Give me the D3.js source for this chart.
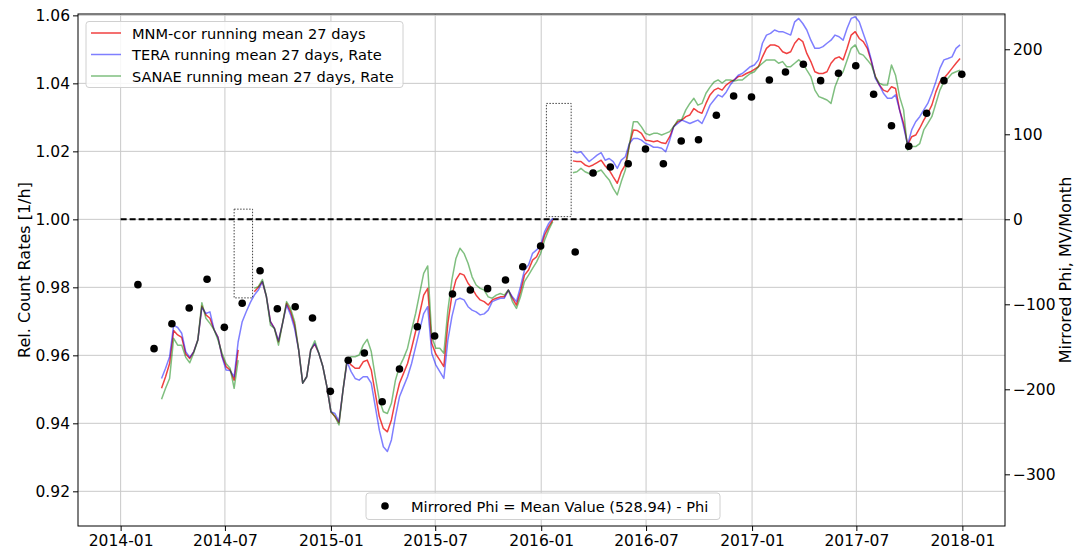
<!DOCTYPE html>
<html>
<head>
<meta charset="utf-8">
<script src="https://cdn.jsdelivr.net/npm/d3@7"></script>
<style>
  body { margin: 0; background: #fff; }
  svg { display: block; }
  text { font-family: "DejaVu Sans", sans-serif; fill: #000; }
</style>
</head>
<body>
<svg id="chart" width="1085" height="552"></svg>
<script>
// ---- data: 27-day running means of relative count rates (weekly samples) ----
const lineDates = [
  "2014-03-13","2014-03-20","2014-03-27","2014-04-03","2014-04-10","2014-04-17","2014-04-24","2014-05-01",
  "2014-05-08","2014-05-15","2014-05-22","2014-05-29","2014-06-05","2014-06-12","2014-06-19","2014-06-26",
  "2014-07-03","2014-07-10","2014-07-17","2014-07-24","2014-07-31","2014-08-07","2014-08-14","2014-08-21",
  "2014-08-28","2014-09-04","2014-09-11","2014-09-18","2014-09-25","2014-10-02","2014-10-09","2014-10-16",
  "2014-10-23","2014-10-30","2014-11-06","2014-11-13","2014-11-20","2014-11-27","2014-12-04","2014-12-11",
  "2014-12-18","2014-12-25","2015-01-01","2015-01-08","2015-01-15","2015-01-22","2015-01-29","2015-02-05",
  "2015-02-12","2015-02-19","2015-02-26","2015-03-05","2015-03-12","2015-03-19","2015-03-26","2015-04-02",
  "2015-04-09","2015-04-16","2015-04-23","2015-04-30","2015-05-07","2015-05-14","2015-05-21","2015-05-28",
  "2015-06-04","2015-06-11","2015-06-18","2015-06-25","2015-07-02","2015-07-09","2015-07-16","2015-07-23",
  "2015-07-30","2015-08-06","2015-08-13","2015-08-20","2015-08-27","2015-09-03","2015-09-10","2015-09-17",
  "2015-09-24","2015-10-01","2015-10-08","2015-10-15","2015-10-22","2015-10-29","2015-11-05","2015-11-12",
  "2015-11-19","2015-11-26","2015-12-03","2015-12-10","2015-12-17","2015-12-24","2015-12-31","2016-01-07",
  "2016-01-14","2016-01-21","2016-01-28","2016-02-04","2016-02-11","2016-02-18","2016-02-25","2016-03-03",
  "2016-03-10","2016-03-17","2016-03-24","2016-03-31","2016-04-07","2016-04-14","2016-04-21","2016-04-28",
  "2016-05-05","2016-05-12","2016-05-19","2016-05-26","2016-06-02","2016-06-09","2016-06-16","2016-06-23",
  "2016-06-30","2016-07-07","2016-07-14","2016-07-21","2016-07-28","2016-08-04","2016-08-11","2016-08-18",
  "2016-08-25","2016-09-01","2016-09-08","2016-09-15","2016-09-22","2016-09-29","2016-10-06","2016-10-13",
  "2016-10-20","2016-10-27","2016-11-03","2016-11-10","2016-11-17","2016-11-24","2016-12-01","2016-12-08",
  "2016-12-15","2016-12-22","2016-12-29","2017-01-05","2017-01-12","2017-01-19","2017-01-26","2017-02-02",
  "2017-02-09","2017-02-16","2017-02-23","2017-03-02","2017-03-09","2017-03-16","2017-03-23","2017-03-30",
  "2017-04-06","2017-04-13","2017-04-20","2017-04-27","2017-05-04","2017-05-11","2017-05-18","2017-05-25",
  "2017-06-01","2017-06-08","2017-06-15","2017-06-22","2017-06-29","2017-07-06","2017-07-13","2017-07-20",
  "2017-07-27","2017-08-03","2017-08-10","2017-08-17","2017-08-24","2017-08-31","2017-09-07","2017-09-14",
  "2017-09-21","2017-09-28","2017-10-05","2017-10-12","2017-10-19","2017-10-26","2017-11-02","2017-11-09",
  "2017-11-16","2017-11-23","2017-11-30","2017-12-07","2017-12-14","2017-12-21","2017-12-28"
];

const mnmRate = [
  0.9503,0.9537,0.9576,0.9673,0.9660,0.9653,0.9604,0.9591,0.9611,0.9645,0.9745,0.9719,0.9709,0.9676,0.9653,0.9598,
  0.9567,0.9557,0.9527,0.9616,null,null,null,0.9787,0.9800,0.9817,0.9773,0.9699,0.9679,0.9640,0.9694,0.9753,
  0.9728,0.9689,0.9616,0.9518,0.9537,0.9616,0.9633,0.9606,0.9567,0.9508,0.9434,0.9420,0.9402,0.9498,0.9584,0.9572,
  0.9562,0.9562,0.9581,0.9586,0.9557,0.9488,0.9420,0.9385,0.9375,0.9410,0.9469,0.9518,0.9547,0.9576,0.9621,0.9670,
  0.9723,0.9777,0.9797,0.9635,0.9604,0.9586,0.9567,0.9694,0.9777,0.9822,0.9841,0.9836,0.9812,0.9797,0.9777,0.9763,
  0.9758,0.9748,0.9763,0.9768,0.9772,0.9772,0.9792,0.9768,0.9748,0.9787,0.9836,0.9851,0.9880,0.9890,0.9915,0.9954,
  0.9978,0.9998,null,null,null,null,1.0172,1.0170,1.0170,1.0160,1.0155,1.0160,1.0167,1.0174,1.0157,1.0145,
  1.0125,1.0106,1.0140,1.0160,1.0219,1.0263,1.0261,1.0253,1.0233,1.0231,1.0228,1.0231,1.0225,1.0223,1.0243,1.0273,
  1.0287,1.0292,1.0302,1.0307,1.0326,1.0317,1.0312,1.0341,1.0366,1.0380,1.0386,1.0380,1.0395,1.0404,1.0410,1.0420,
  1.0422,1.0429,1.0434,1.0441,1.0449,1.0478,1.0503,1.0513,1.0513,1.0508,1.0493,1.0488,1.0493,1.0518,1.0532,1.0523,
  1.0488,1.0464,1.0434,1.0429,1.0429,1.0434,1.0459,1.0473,1.0478,1.0469,1.0503,1.0542,1.0552,1.0532,1.0523,1.0503,
  1.0464,1.0420,1.0395,1.0380,1.0375,1.0390,1.0385,1.0322,1.0282,1.0219,1.0243,1.0248,1.0268,1.0292,1.0312,1.0336,
  1.0375,1.0405,1.0415,1.0429,1.0444,1.0459,1.0473
];

const teraRate = [
  0.9532,0.9562,0.9596,0.9688,0.9682,0.9665,0.9611,0.9594,0.9611,0.9645,0.9741,0.9723,0.9728,0.9676,0.9653,0.9596,
  0.9557,0.9555,0.9537,0.9640,0.9699,0.9728,0.9755,0.9777,0.9792,0.9817,0.9773,0.9699,0.9679,0.9643,0.9694,0.9748,
  0.9719,0.9679,0.9616,0.9518,0.9537,0.9616,0.9635,0.9606,0.9567,0.9508,0.9434,0.9429,0.9405,0.9498,0.9581,0.9552,
  0.9532,0.9527,0.9537,0.9537,0.9518,0.9449,0.9380,0.9331,0.9317,0.9351,0.9420,0.9478,0.9508,0.9537,0.9576,0.9625,
  0.9674,0.9723,0.9743,0.9606,0.9572,0.9552,0.9532,0.9645,0.9714,0.9763,0.9768,0.9763,0.9743,0.9733,0.9728,0.9719,
  0.9722,0.9733,0.9758,0.9763,0.9768,0.9768,0.9792,0.9772,0.9758,0.9802,0.9851,0.9866,0.9900,0.9910,0.9924,0.9964,
  0.9988,1.0003,null,null,null,null,1.0201,1.0196,1.0199,1.0184,1.0170,1.0179,1.0189,1.0196,1.0174,1.0179,
  1.0170,1.0150,1.0174,1.0184,1.0223,1.0238,1.0238,1.0233,1.0223,1.0219,1.0212,1.0212,1.0209,1.0199,1.0233,1.0273,
  1.0282,1.0292,1.0287,1.0282,1.0287,1.0292,1.0282,1.0307,1.0336,1.0351,1.0366,1.0360,1.0374,1.0395,1.0410,1.0424,
  1.0429,1.0439,1.0449,1.0454,1.0469,1.0518,1.0542,1.0547,1.0557,1.0552,1.0552,1.0547,1.0542,1.0581,1.0591,1.0576,
  1.0557,1.0527,1.0503,1.0503,1.0508,1.0518,1.0527,1.0542,1.0537,1.0527,1.0562,1.0591,1.0596,1.0581,1.0547,1.0513,
  1.0469,1.0415,1.0395,1.0371,1.0356,1.0356,1.0366,1.0322,1.0272,1.0219,1.0263,1.0287,1.0302,1.0322,1.0341,1.0371,
  1.0405,1.0444,1.0469,1.0473,1.0478,1.0503,1.0513
];

const sanaeRate = [
  0.9471,0.9503,0.9532,0.9650,0.9630,0.9630,0.9594,0.9578,0.9608,0.9645,0.9755,0.9709,0.9694,0.9676,0.9645,0.9606,
  0.9576,0.9562,0.9503,0.9586,null,null,null,0.9797,0.9802,0.9823,0.9773,0.9689,0.9679,0.9630,0.9694,0.9758,
  0.9738,0.9699,0.9616,0.9518,0.9537,0.9616,0.9643,0.9606,0.9567,0.9508,0.9434,0.9420,0.9395,0.9498,0.9588,0.9596,
  0.9596,0.9601,0.9630,0.9647,0.9611,0.9537,0.9469,0.9434,0.9429,0.9459,0.9527,0.9567,0.9591,0.9621,0.9674,0.9723,
  0.9782,0.9841,0.9863,0.9655,0.9621,0.9621,0.9606,0.9733,0.9822,0.9885,0.9915,0.9900,0.9871,0.9831,0.9807,0.9797,
  0.9792,0.9772,0.9768,0.9777,0.9782,0.9777,0.9792,0.9758,0.9738,0.9772,0.9817,0.9836,0.9856,0.9875,0.9900,0.9939,
  0.9969,0.9993,null,null,null,null,1.0137,1.0140,1.0150,1.0140,1.0135,1.0130,1.0140,1.0145,1.0130,1.0116,
  1.0091,1.0072,1.0111,1.0145,1.0219,1.0287,1.0287,1.0272,1.0253,1.0248,1.0253,1.0253,1.0248,1.0253,1.0258,1.0273,
  1.0292,1.0294,1.0322,1.0341,1.0356,1.0336,1.0341,1.0371,1.0389,1.0404,1.0410,1.0401,1.0410,1.0410,1.0407,1.0410,
  1.0410,1.0420,1.0429,1.0434,1.0449,1.0459,1.0469,1.0469,1.0469,1.0459,1.0464,1.0449,1.0449,1.0459,1.0469,1.0459,
  1.0439,1.0420,1.0380,1.0361,1.0356,1.0351,1.0341,1.0390,1.0420,1.0434,1.0469,1.0503,1.0513,1.0488,1.0483,1.0469,
  1.0454,1.0420,1.0400,1.0395,1.0395,1.0454,1.0424,1.0361,1.0322,1.0204,1.0214,1.0214,1.0223,1.0263,1.0282,1.0302,
  1.0341,1.0380,1.0405,1.0415,1.0429,1.0434,1.0439
];

// ---- monthly mirrored heliospheric potential (MV/month) ----
const phiDates = [
  "2014-01-31","2014-02-28","2014-03-31","2014-04-30","2014-05-31","2014-06-30","2014-07-31","2014-08-31",
  "2014-09-30","2014-10-31","2014-11-30","2014-12-31","2015-01-31","2015-02-28","2015-03-31","2015-04-30",
  "2015-05-31","2015-06-30","2015-07-31","2015-08-31","2015-09-30","2015-10-31","2015-11-30","2015-12-31",
  "2016-02-29","2016-03-31","2016-04-30","2016-05-31","2016-06-30","2016-07-31","2016-08-31","2016-09-30",
  "2016-10-31","2016-11-30","2016-12-31","2017-01-31","2017-02-28","2017-03-31","2017-04-30","2017-05-31",
  "2017-06-30","2017-07-31","2017-08-31","2017-09-30","2017-10-31","2017-11-30","2017-12-31"
];
const phiMirrored = [
  -76.9,-152.2,-122.8,-104.4,-70.6,-127.1,-98.8,-60.5,
  -105.2,-102.8,-116.1,-202.4,-165.9,-157.3,-214.6,-176.1,
  -126.4,-137.3,-87.9,-83.2,-81.6,-71.4,-55.8,-31.4,
  -38.5,54.5,61.5,65.4,82.7,65.4,92.1,93.6,
  122.4,145.0,143.9,163.9,173.3,182.4,163.1,171.8,
  180.7,147.1,110.1,85.9,124.7,163.1,170.6
];

// ---- data gaps (date range, count-rate range) ----
const gapFrom = ["2014-07-17", "2016-01-10"];
const gapTo   = ["2014-08-18", "2016-02-22"];
const gapLow  = [0.9769, 1.0008];
const gapHigh = [1.0030, 1.0341];

// ---- reference level and ticks ----
const refLevel = 1.0;
const refFrom = "2014-01-01", refTo = "2018-01-01";
const xTickDates = ["2014-01-01","2014-07-01","2015-01-01","2015-07-01","2016-01-01","2016-07-01","2017-01-01","2017-07-01","2018-01-01"];
const yTicks = [0.92, 0.94, 0.96, 0.98, 1.00, 1.02, 1.04, 1.06];
const phiTicks = [-300, -200, -100, 0, 100, 200];

const seriesNames = ["MNM-cor running mean 27 days", "TERA running mean 27 days, Rate", "SANAE running mean 27 days, Rate"];
const phiLabel = "Mirrored Phi = Mean Value (528.94) - Phi";

// ---- layout ----
const parse = d3.utcParse("%Y-%m-%d");
const svg = d3.select("#chart");
const M = { left: 78, right: 1005, top: 14, bottom: 526 };

const x = d3.scaleUtc()
  .domain([parse("2013-10-19"), parse("2018-03-16")])
  .range([M.left, M.right]);
const y = d3.scaleLinear().domain([0.9098, 1.0604]).range([M.bottom, M.top]);
const yPhi = d3.scaleLinear().domain([-360.8, 241.5]).range([M.bottom, M.top]);

const TICK_FS = "15.5px";
const gridColor = "#c9c9c9";

svg.append("defs").append("clipPath").attr("id", "plotclip")
  .append("rect").attr("x", M.left).attr("y", M.top)
  .attr("width", M.right - M.left).attr("height", M.bottom - M.top);

// grid
const grid = svg.append("g");
grid.selectAll("line.gx").data(xTickDates).join("line")
  .attr("x1", d => x(parse(d))).attr("x2", d => x(parse(d)))
  .attr("y1", M.top).attr("y2", M.bottom)
  .attr("stroke", gridColor).attr("stroke-width", 1);
grid.selectAll("line.gy").data(yTicks).join("line")
  .attr("x1", M.left).attr("x2", M.right)
  .attr("y1", d => y(d)).attr("y2", d => y(d))
  .attr("stroke", gridColor).attr("stroke-width", 1);

const plot = svg.append("g").attr("clip-path", "url(#plotclip)");

// gap boxes
plot.selectAll("rect.gap").data(gapFrom.map((f, i) => i)).join("rect")
  .attr("x", i => x(parse(gapFrom[i])))
  .attr("y", i => y(gapHigh[i]))
  .attr("width", i => x(parse(gapTo[i])) - x(parse(gapFrom[i])))
  .attr("height", i => y(gapLow[i]) - y(gapHigh[i]))
  .attr("fill", "none").attr("stroke", "#444").attr("stroke-width", 1)
  .attr("stroke-dasharray", "1.5,1.5");

// reference level
plot.append("line")
  .attr("x1", x(parse(refFrom))).attr("x2", x(parse(refTo)))
  .attr("y1", y(refLevel)).attr("y2", y(refLevel))
  .attr("stroke", "#000").attr("stroke-width", 2).attr("stroke-dasharray", "6,3");

// running-mean curves
const lineStyles = [
  { values: mnmRate,   color: "rgba(235,0,0,0.75)" },
  { values: teraRate,  color: "rgba(0,0,255,0.5)" },
  { values: sanaeRate, color: "rgba(0,128,0,0.5)" }
];
const line = d3.line()
  .defined(d => d.v != null)
  .x(d => x(d.t)).y(d => y(d.v));
lineStyles.forEach(s => {
  const pts = lineDates.map((d, i) => ({ t: parse(d), v: s.values[i] }));
  plot.append("path").datum(pts)
    .attr("d", line).attr("fill", "none")
    .attr("stroke", s.color).attr("stroke-width", 1.5)
    .attr("stroke-linejoin", "round");
});

// mirrored phi points
plot.selectAll("circle.phi").data(phiDates.map((d, i) => ({ t: parse(d), v: phiMirrored[i] }))).join("circle")
  .attr("cx", d => x(d.t)).attr("cy", d => yPhi(d.v)).attr("r", 3.8).attr("fill", "#000");

// axes
const fmtMonth = d3.utcFormat("%Y-%m");
const axB = svg.append("g").attr("transform", `translate(0,${M.bottom})`)
  .call(d3.axisBottom(x).tickValues(xTickDates.map(parse)).tickFormat(fmtMonth).tickSize(5).tickPadding(4).tickSizeOuter(0));
const axL = svg.append("g").attr("transform", `translate(${M.left},0)`)
  .call(d3.axisLeft(y).tickValues(yTicks).tickFormat(d3.format(".2f")).tickSize(5).tickPadding(3).tickSizeOuter(0));
const axR = svg.append("g").attr("transform", `translate(${M.right},0)`)
  .call(d3.axisRight(yPhi).tickValues(phiTicks).tickFormat(d3.format("d")).tickSize(5).tickPadding(3).tickSizeOuter(0));
[axB, axL, axR].forEach(a => {
  a.selectAll("text").style("font-size", TICK_FS).style("font-family", "DejaVu Sans");
  a.selectAll(".tick line").attr("stroke", "#000");
  a.select(".domain").remove();
});

// frame
svg.append("rect").attr("x", M.left).attr("y", M.top)
  .attr("width", M.right - M.left).attr("height", M.bottom - M.top)
  .attr("fill", "none").attr("stroke", "#000").attr("stroke-width", 1);

// axis titles
svg.append("text").attr("transform", `translate(25,${(M.top + M.bottom) / 2}) rotate(-90)`)
  .attr("text-anchor", "middle").attr("dominant-baseline", "middle")
  .style("font-size", "16px").text("Rel. Count Rates [1/h]");
svg.append("text").attr("transform", `translate(1066,${(M.top + M.bottom) / 2}) rotate(-90)`)
  .attr("text-anchor", "middle").attr("dominant-baseline", "middle")
  .style("font-size", "16px").text("Mirrored Phi, MV/Month");

// legend: curves
const leg = svg.append("g");
leg.append("rect").attr("x", 86).attr("y", 21.5).attr("width", 317).attr("height", 66).attr("rx", 3)
  .attr("fill", "rgba(255,255,255,0.85)").attr("stroke", "#d0d0d0");
lineStyles.forEach((s, i) => {
  const yy = 33 + i * 21.5;
  leg.append("line").attr("x1", 91).attr("x2", 121).attr("y1", yy).attr("y2", yy)
    .attr("stroke", s.color).attr("stroke-width", 1.5);
  leg.append("text").attr("x", 132).attr("y", yy).attr("dominant-baseline", "central")
    .style("font-size", "14.6px").text(seriesNames[i]);
});

// legend: phi points
const leg2 = svg.append("g");
leg2.append("rect").attr("x", 366).attr("y", 493).attr("width", 354).attr("height", 26.5).attr("rx", 3)
  .attr("fill", "rgba(255,255,255,0.85)").attr("stroke", "#d0d0d0");
leg2.append("circle").attr("cx", 385).attr("cy", 506).attr("r", 3.8).attr("fill", "#000");
leg2.append("text").attr("x", 411).attr("y", 506).attr("dominant-baseline", "central")
  .style("font-size", "14.6px").text(phiLabel);
</script>
</body>
</html>
